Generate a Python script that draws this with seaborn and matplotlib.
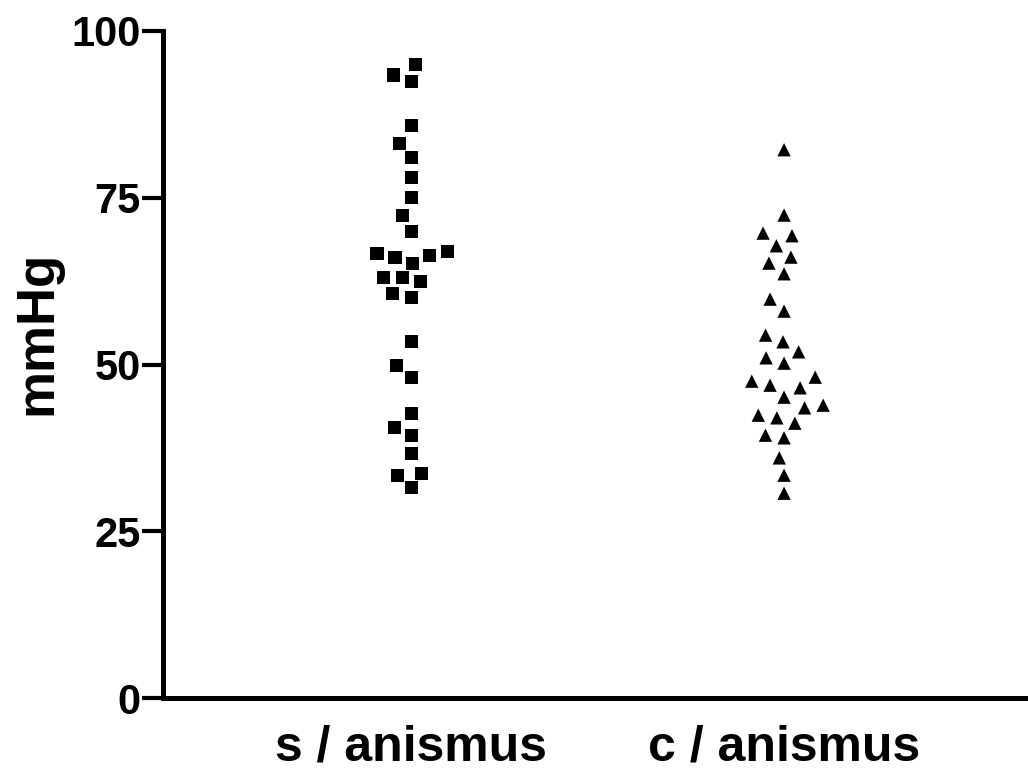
import matplotlib
matplotlib.use('Agg')
from matplotlib import pyplot as plt
import pandas as pd
import seaborn as sns

groups = ['s / anismus', 'c / anismus']
s_anismus = [95.0, 93.4, 92.4, 85.9, 83.1, 81.0, 78.0, 75.0, 72.3, 69.9,
             66.9, 66.0, 66.7, 66.4, 65.2, 63.0, 63.1, 62.4, 60.6, 60.1,
             53.4, 49.8, 48.1, 42.7, 40.5, 39.4, 36.7, 33.7, 33.3, 31.5]
c_anismus = [82.2, 72.4, 69.3, 69.7, 67.8, 66.1, 65.2, 63.6, 59.8, 58.0,
             54.4, 53.4, 51.9, 51.0, 50.2, 48.1, 47.5, 46.9, 46.5, 45.1,
             43.9, 43.5, 42.0, 42.4, 41.2, 39.4, 39.0, 36.0, 33.4, 30.7]
y_ticks = [0, 25, 50, 75, 100]
y_label = 'mmHg'

sns.set_theme(style='ticks')
plt.rcParams['font.family'] = ['Liberation Sans', 'DejaVu Sans']
plt.rcParams['font.weight'] = 'bold'
plt.rcParams['text.color'] = 'black'
plt.rcParams['axes.labelcolor'] = 'black'
plt.rcParams['xtick.color'] = 'black'
plt.rcParams['ytick.color'] = 'black'

df_s = pd.DataFrame({'group': groups[0], 'value': s_anismus})
df_c = pd.DataFrame({'group': groups[1], 'value': c_anismus})

fig = plt.figure(figsize=(10.28, 7.75), dpi=100)
ax = fig.add_axes([163 / 1028, 1 - 698 / 775, 865 / 1028, 667 / 775])

# edge is invisible but widens the swarm spacing like the original
sns.swarmplot(data=df_s, x='group', y='value', order=groups, ax=ax,
              marker='s', color='black', size=9.4, linewidth=3.4,
              edgecolor='none')
sns.swarmplot(data=df_c, x='group', y='value', order=groups, ax=ax,
              marker='^', color='black', size=9.6, linewidth=3.3,
              edgecolor='none')

ax.set_ylim(0, 100)
ax.set_xlim(-0.665, 1.654)
ax.set_yticks(y_ticks)
ax.set_xlabel('')
ax.set_ylabel(y_label, fontsize=38, fontweight='bold', color='black')
ax.yaxis.set_label_coords(-0.116, 0.547)
sns.despine(ax=ax)
for side in ['left', 'bottom']:
    ax.spines[side].set_linewidth(3.6)
    ax.spines[side].set_color('black')
ax.tick_params(axis='y', length=15, width=3, color='black', pad=1,
               labelsize=30, labelcolor='black')
ax.tick_params(axis='x', length=0, pad=19, labelsize=36, labelcolor='black')
for lab in ax.get_xticklabels() + ax.get_yticklabels():
    lab.set_fontweight('bold')

fig.savefig('out.png', dpi=100)
